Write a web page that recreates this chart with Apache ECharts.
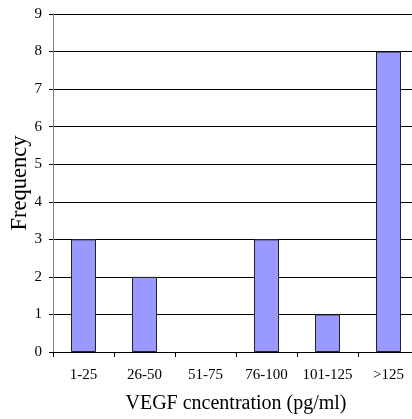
<!DOCTYPE html>
<html><head><meta charset="utf-8">
<script src="https://cdn.jsdelivr.net/npm/echarts@6/dist/echarts.min.js"></script>
<style>html,body{margin:0;padding:0;background:#fff}#c{width:412px;height:419px}</style>
</head><body><div id="c"></div>
<script>
const categories = ['1-25','26-50','51-75','76-100','101-125','>125'];
const frequency = [3,2,0,3,1,8];
const yTicks = [0,9,1];
const chart = echarts.init(document.getElementById('c'));
const font = 'Liberation Serif';
chart.setOption({
  animation:false,
  grid:{left:53,top:14,width:366,height:338,containLabel:false,outerBoundsMode:'none'},
  xAxis:{type:'category',data:categories,
    name:'VEGF cncentration (pg/ml)',nameLocation:'middle',nameGap:42,
    nameTextStyle:{fontFamily:font,fontSize:20,color:'#000'},
    axisLine:{lineStyle:{color:'#000',width:1}},
    axisTick:{show:true,length:5,interval:0,lineStyle:{color:'#000'},alignWithLabel:false},
    axisLabel:{fontFamily:font,fontSize:15,color:'#000',margin:16,interval:0,hideOverlap:false}},
  yAxis:{type:'value',min:yTicks[0],max:yTicks[1],interval:yTicks[2],
    name:'Frequency',nameLocation:'middle',nameGap:21,nameMoveOverlap:false,
    nameTextStyle:{fontFamily:font,fontSize:22.5,color:'#000'},
    axisLine:{show:true,lineStyle:{color:'#808080',width:1}},
    axisTick:{show:true,length:4,lineStyle:{color:'#000'}},
    axisLabel:{fontFamily:font,fontSize:15,color:'#000',margin:11},
    splitLine:{show:true,lineStyle:{color:'#000',width:1}}},
  series:[{type:'bar',barWidth:25,
    data:frequency.map(v => v === 0 ? {value:v,itemStyle:{borderWidth:0}} : v),
    itemStyle:{color:'#9999ff',borderColor:'#222',borderWidth:1}}]
});
</script></body></html>
